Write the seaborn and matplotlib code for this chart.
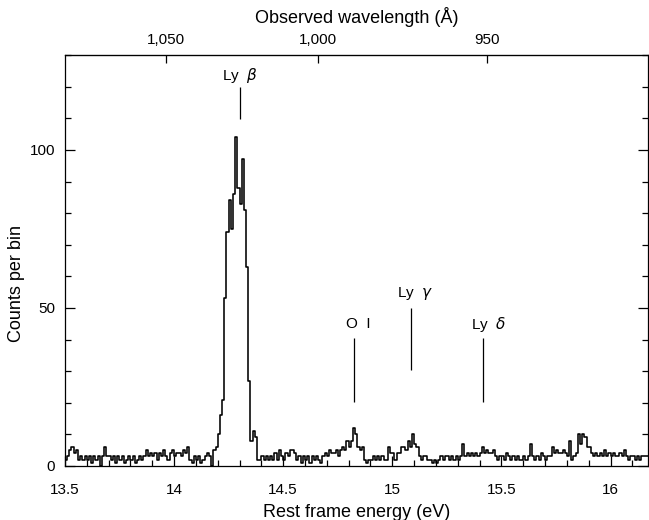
import numpy as np
import pandas as pd
import matplotlib
matplotlib.use("Agg")
import matplotlib.pyplot as plt
import seaborn as sns
from matplotlib.ticker import MultipleLocator, FixedLocator

# ---- data (counts per 0.01 eV bin, starting at 13.50 eV) ----
bin_start = 13.50
bin_width = 0.01
counts = [
    2, 3, 5, 6, 4, 5, 2, 3, 2, 3,      # 13.50
    2, 3, 1, 3, 2, 3, 0, 3, 6, 3,      # 13.60
    3, 2, 3, 1, 3, 2, 3, 1, 2, 3,      # 13.70
    2, 3, 1, 2, 3, 2, 3, 5, 3, 4,      # 13.80
    3, 4, 2, 4, 3, 5, 3, 2, 4, 5,      # 13.90
    3, 4, 4, 3, 5, 4, 6, 2, 1, 3,      # 14.00
    2, 3, 1, 2, 3, 4, 3, 0, 5, 6,      # 14.10
    10, 16, 21, 53, 74, 84, 75, 86, 104, 88,  # 14.20
    83, 97, 81, 63, 27, 8, 11, 9, 2, 2,       # 14.30
    3, 2, 3, 2, 3, 2, 4, 2, 5, 3,      # 14.40
    2, 4, 3, 5, 5, 4, 2, 3, 1, 3,      # 14.50
    2, 3, 1, 3, 2, 3, 2, 1, 3, 4,      # 14.60
    3, 5, 4, 4, 5, 3, 5, 6, 5, 8,      # 14.70
    6, 8, 12, 10, 6, 5, 6, 2, 1, 2,    # 14.80
    2, 3, 2, 3, 2, 3, 2, 2, 6, 4,      # 14.90
    4, 2, 4, 4, 6, 6, 5, 8, 6, 10,     # 15.00
    7, 6, 3, 2, 3, 3, 2, 2, 1, 2,      # 15.10
    1, 2, 3, 2, 3, 3, 2, 3, 2, 3,      # 15.20
    2, 3, 7, 3, 4, 3, 4, 3, 4, 3,      # 15.30
    4, 6, 4, 5, 4, 4, 5, 3, 2, 3,      # 15.40
    3, 2, 4, 3, 2, 3, 2, 3, 2, 2,      # 15.50
    3, 2, 3, 7, 3, 2, 3, 2, 4, 3,      # 15.60
    2, 3, 3, 6, 4, 5, 4, 4, 5, 4,      # 15.70
    3, 8, 2, 3, 4, 10, 7, 10, 9, 6,    # 15.80
    6, 4, 3, 4, 3, 4, 3, 5, 3, 4,      # 15.90
    3, 4, 3, 3, 4, 3, 5, 3, 2, 3,      # 16.00
    3, 2, 3, 2, 3, 3, 3,               # 16.10
]

line_names = ["Ly  $\\beta$", "O  I", "Ly  $\\gamma$", "Ly  $\\delta$"]
line_energy = [14.303, 14.825, 15.085, 15.417]
line_top = [119.8, 40.4, 49.9, 40.4]
line_bottom = [109.9, 20.2, 30.3, 20.2]
label_x = [14.222, 14.787, 15.022, 15.361]
label_y = [123.5, 44.8, 54.5, 44.8]

wl_ticks = [1050, 1000, 950]
wl_labels = ["1,050", "1,000", "950"]
K_wl = 14660.0  # rest-frame energy (eV) * observed wavelength (Å)

# ---- build ----
n = len(counts)
edges = [round(bin_start + bin_width * i, 4) for i in range(n + 1)]
centers = [round(e + bin_width / 2, 5) for e in edges[:-1]]
df = pd.DataFrame({"energy": centers, "counts": counts})

sns.set_style("ticks")
plt.rcParams["font.family"] = ["Liberation Sans", "DejaVu Sans"]
plt.rcParams["mathtext.fontset"] = "dejavusans"
for k in ["text.color", "axes.labelcolor", "xtick.color", "ytick.color",
          "axes.edgecolor"]:
    plt.rcParams[k] = "black"

fig = plt.figure(figsize=(6.49, 5.2), dpi=100)
ax = fig.add_axes([0.100, 0.104, 0.898, 0.790])

sns.histplot(data=df, x="energy", weights="counts", bins=edges,
             element="step", fill=False, color="black", linewidth=1.15, ax=ax)

ax.set_xlim(13.5, 16.17)
ax.set_ylim(0, 130)

ax.set_xticks([13.5, 14, 14.5, 15, 15.5, 16])
ax.set_xticklabels(["13.5", "14", "14.5", "15", "15.5", "16"])
ax.xaxis.set_minor_locator(MultipleLocator(0.1))
ax.set_yticks([0, 50, 100])
ax.yaxis.set_minor_locator(MultipleLocator(10))

ax.tick_params(which="both", direction="in", right=True, top=False,
               labelsize=11, width=0.9, color="black", labelcolor="black")
ax.tick_params(which="major", length=7)
ax.tick_params(which="minor", length=4)
ax.tick_params(axis="x", pad=12)
ax.tick_params(axis="y", pad=7)

for s in ax.spines.values():
    s.set_linewidth(0.9)
    s.set_color("black")
    s.set_visible(True)

ax.set_xlabel("Rest frame energy (eV)", fontsize=13, labelpad=5, color="black")
ax.set_ylabel("Counts per bin", fontsize=13, labelpad=9, color="black")
ax.yaxis.set_label_coords(-0.068, 0.445)

def e2w(e):
    e = np.asarray(e, dtype=float)
    with np.errstate(divide="ignore"):
        return K_wl / e

secax = ax.secondary_xaxis("top", functions=(e2w, e2w))
secax.xaxis.set_major_locator(FixedLocator(wl_ticks))
secax.set_xticklabels(wl_labels)
secax.tick_params(direction="in", length=6, width=0.9, labelsize=11, pad=6,
                  color="black", labelcolor="black")
secax.set_xlabel("Observed wavelength (Å)", fontsize=13, labelpad=7, color="black")

for name, e, yt, yb, lx, ly in zip(line_names, line_energy, line_top,
                                   line_bottom, label_x, label_y):
    ax.vlines(e, yb, yt, color="black", linewidth=0.9)
    ax.text(lx, ly, name, ha="left", va="center", fontsize=11, color="black")

fig.savefig("out.png", dpi=100)
